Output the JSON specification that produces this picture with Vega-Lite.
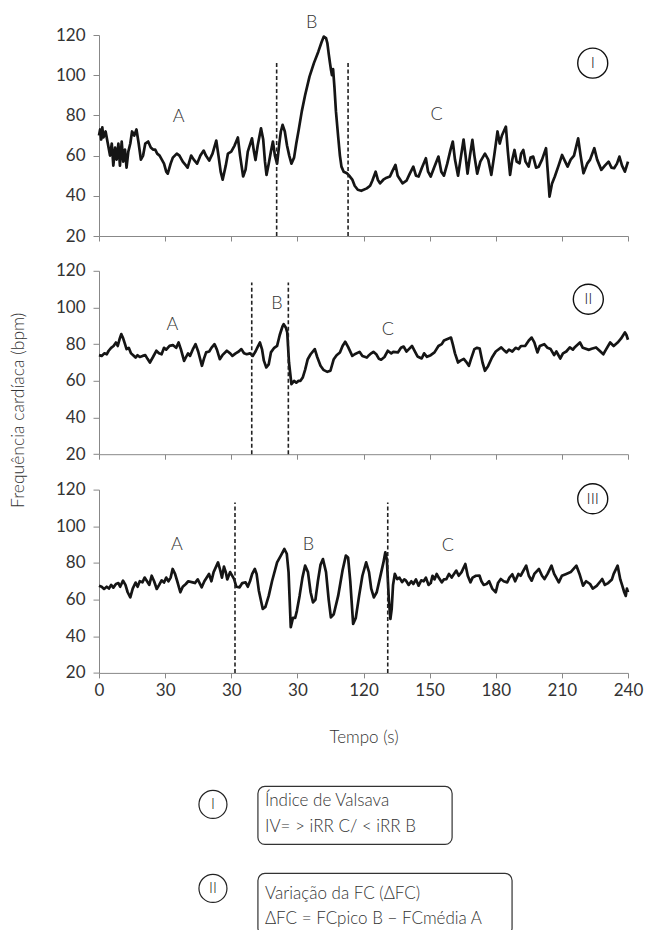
{
"$schema":"https://vega.github.io/schema/vega-lite/v6.json",
"padding":{"left":8,"top":13,"right":5,"bottom":0},
"config":{"font":"Lato","view":{"stroke":null},"axis":{"grid":false,"titleFontWeight":"normal"}},
"datasets":{
"hr1":[{"t":0,"v":70},{"t":0.5,"v":73},{"t":1,"v":68},{"t":1.5,"v":74},{"t":2,"v":69},{"t":3,"v":72},{"t":4,"v":66},{"t":5,"v":60},{"t":5.8,"v":66},{"t":6.5,"v":55},{"t":7.3,"v":64},{"t":8,"v":58},{"t":8.8,"v":66},{"t":9.5,"v":55},{"t":10.3,"v":67},{"t":11,"v":57},{"t":11.8,"v":63},{"t":12.5,"v":54},{"t":13.3,"v":62},{"t":14.2,"v":66},{"t":15,"v":72},{"t":16,"v":70},{"t":17,"v":73},{"t":18,"v":66},{"t":19,"v":58},{"t":20,"v":60},{"t":21,"v":66},{"t":22.3,"v":67},{"t":23.5,"v":64},{"t":24.5,"v":63},{"t":25.5,"v":63},{"t":26.4,"v":61},{"t":27.5,"v":60},{"t":28.5,"v":58},{"t":29.5,"v":56},{"t":30.5,"v":52},{"t":31.2,"v":51},{"t":32.5,"v":56},{"t":33.5,"v":59},{"t":35.3,"v":61},{"t":36.5,"v":60},{"t":38,"v":57},{"t":39.5,"v":55},{"t":40.2,"v":54},{"t":41.8,"v":60},{"t":43,"v":58},{"t":44.5,"v":56},{"t":46,"v":60},{"t":47.5,"v":62.5},{"t":48.5,"v":60},{"t":50,"v":57.5},{"t":51.5,"v":61},{"t":53.2,"v":67.5},{"t":54.2,"v":60},{"t":55.2,"v":52},{"t":56.1,"v":48},{"t":57.5,"v":55},{"t":58.5,"v":61},{"t":60,"v":62},{"t":61.5,"v":65},{"t":63,"v":69},{"t":64,"v":60},{"t":65.4,"v":49.6},{"t":66.5,"v":53},{"t":67.5,"v":62},{"t":69.4,"v":68.6},{"t":70.3,"v":62},{"t":71,"v":57.8},{"t":72,"v":65},{"t":73.5,"v":73.6},{"t":74.5,"v":68},{"t":75.3,"v":57},{"t":76,"v":50.4},{"t":77,"v":56},{"t":78,"v":62},{"t":78.9,"v":67},{"t":79.8,"v":60},{"t":80.8,"v":56},{"t":81.8,"v":66},{"t":82.5,"v":72},{"t":83.3,"v":75.3},{"t":84.3,"v":72},{"t":85.3,"v":65},{"t":86.3,"v":60},{"t":87.3,"v":56},{"t":88.5,"v":59},{"t":89.5,"v":66},{"t":90.6,"v":72.8},{"t":92,"v":82},{"t":93.5,"v":90},{"t":95.5,"v":99.3},{"t":97.5,"v":106},{"t":99.5,"v":111.7},{"t":101,"v":116.5},{"t":102,"v":119.2},{"t":103,"v":118.5},{"t":103.6,"v":116},{"t":104.3,"v":110},{"t":104.8,"v":106},{"t":105.2,"v":103},{"t":105.7,"v":100},{"t":106.2,"v":103},{"t":106.8,"v":94.3},{"t":107.5,"v":82},{"t":108.5,"v":69.5},{"t":109.3,"v":60},{"t":110,"v":54.5},{"t":111,"v":52},{"t":112.5,"v":51.2},{"t":113.5,"v":50},{"t":115,"v":47.9},{"t":116,"v":45},{"t":117.4,"v":43},{"t":119,"v":42.5},{"t":121.5,"v":43.7},{"t":123,"v":45},{"t":124,"v":47.5},{"t":125.5,"v":52},{"t":126.5,"v":48},{"t":127.5,"v":46.2},{"t":129,"v":48},{"t":130.5,"v":49},{"t":132,"v":49.6},{"t":133,"v":52},{"t":134.5,"v":55.4},{"t":135.5,"v":50},{"t":137.7,"v":46.2},{"t":139.5,"v":47.5},{"t":141,"v":51},{"t":142.6,"v":54.5},{"t":143.8,"v":50},{"t":145,"v":49.6},{"t":146.5,"v":54},{"t":148.3,"v":58.7},{"t":149.3,"v":52},{"t":150.5,"v":49.6},{"t":152,"v":54},{"t":154,"v":59.5},{"t":155.3,"v":52},{"t":156.5,"v":50},{"t":158,"v":56},{"t":159.5,"v":63},{"t":160.5,"v":67},{"t":161.5,"v":58},{"t":162.9,"v":50},{"t":164,"v":58},{"t":165.4,"v":68},{"t":166.3,"v":60},{"t":167.2,"v":51},{"t":168.3,"v":60},{"t":169.4,"v":67.8},{"t":170.3,"v":60},{"t":171.6,"v":51},{"t":173,"v":57},{"t":175.1,"v":61},{"t":176.6,"v":58},{"t":178,"v":50.4},{"t":179.3,"v":60},{"t":180.8,"v":72},{"t":181.8,"v":66},{"t":182.8,"v":70},{"t":183.6,"v":72},{"t":184.6,"v":74.4},{"t":185.5,"v":62},{"t":186.5,"v":50.4},{"t":187.5,"v":58},{"t":188.5,"v":62.8},{"t":189.5,"v":57},{"t":190.8,"v":56.2},{"t":191.5,"v":61},{"t":192.5,"v":62.8},{"t":193.5,"v":57},{"t":194.9,"v":54.5},{"t":195.8,"v":59},{"t":197,"v":59.5},{"t":198.3,"v":54},{"t":199.5,"v":54.5},{"t":201,"v":58},{"t":202.8,"v":63.7},{"t":203.6,"v":52},{"t":204.4,"v":39.6},{"t":205.5,"v":46},{"t":206.8,"v":49.6},{"t":208.5,"v":55},{"t":210.1,"v":60.3},{"t":211.5,"v":57},{"t":212.6,"v":54.5},{"t":214,"v":58},{"t":215.5,"v":60},{"t":217.4,"v":68.6},{"t":218.5,"v":60},{"t":219.8,"v":51.2},{"t":221.5,"v":56},{"t":222.8,"v":58},{"t":224.7,"v":63.7},{"t":226,"v":58},{"t":227.9,"v":52.9},{"t":229.5,"v":55},{"t":231.2,"v":57},{"t":232.5,"v":54},{"t":233.7,"v":53.7},{"t":235,"v":56},{"t":236.1,"v":59.5},{"t":237.3,"v":55},{"t":238.6,"v":52},{"t":240,"v":57}],
"hr2":[{"t":0,"v":74},{"t":1.2,"v":73.6},{"t":2.5,"v":75},{"t":3.5,"v":74.5},{"t":4.4,"v":76.4},{"t":5.5,"v":78},{"t":6.6,"v":79},{"t":7.7,"v":80.9},{"t":8.5,"v":79},{"t":9.4,"v":83},{"t":10.1,"v":85.5},{"t":11,"v":83},{"t":11.8,"v":80},{"t":12.5,"v":77.3},{"t":13.5,"v":78},{"t":14.5,"v":75},{"t":15.5,"v":74},{"t":16.6,"v":72.7},{"t":17.5,"v":74},{"t":18.5,"v":73},{"t":19.8,"v":73.6},{"t":21,"v":74},{"t":22,"v":72},{"t":23.1,"v":70},{"t":24.5,"v":73},{"t":26,"v":76.4},{"t":27.2,"v":75},{"t":28.4,"v":74.5},{"t":29.5,"v":78},{"t":30.5,"v":77},{"t":32,"v":79.1},{"t":33.5,"v":79.5},{"t":35,"v":78},{"t":36.1,"v":80.9},{"t":37.2,"v":77},{"t":38.6,"v":70.9},{"t":39.5,"v":73},{"t":40.4,"v":75},{"t":41.3,"v":73.6},{"t":42.5,"v":77},{"t":43.8,"v":80},{"t":45,"v":76},{"t":46.7,"v":68.2},{"t":47.6,"v":72},{"t":48.6,"v":75.5},{"t":50,"v":76},{"t":51,"v":78},{"t":52.4,"v":80},{"t":53.5,"v":77},{"t":54.8,"v":71.8},{"t":56,"v":74},{"t":58,"v":76.4},{"t":59.5,"v":75},{"t":60.5,"v":73.6},{"t":62,"v":75},{"t":63.4,"v":76},{"t":64.6,"v":77.3},{"t":65.8,"v":75},{"t":67,"v":74.5},{"t":68.5,"v":75},{"t":69.8,"v":73.6},{"t":71,"v":76},{"t":72,"v":78.5},{"t":73,"v":80.9},{"t":74,"v":77},{"t":74.8,"v":71},{"t":75.9,"v":67.3},{"t":77,"v":69},{"t":78,"v":75.5},{"t":79.5,"v":78},{"t":80.8,"v":79.1},{"t":82,"v":85},{"t":83.2,"v":89.5},{"t":83.8,"v":90.9},{"t":84.8,"v":89},{"t":85.4,"v":86.4},{"t":86.2,"v":70},{"t":87.3,"v":58.2},{"t":88.5,"v":60},{"t":89.5,"v":59},{"t":90.5,"v":60},{"t":91.4,"v":60},{"t":92.5,"v":62},{"t":93.5,"v":66},{"t":94.7,"v":71.8},{"t":96,"v":74.5},{"t":97.9,"v":77.3},{"t":99,"v":73},{"t":100.5,"v":68.2},{"t":101.8,"v":66},{"t":103.6,"v":64.9},{"t":105,"v":65.5},{"t":106.5,"v":71.8},{"t":107.8,"v":74},{"t":109.3,"v":75.5},{"t":110.5,"v":79},{"t":111.7,"v":81.3},{"t":113,"v":78.5},{"t":114.9,"v":73.6},{"t":116,"v":74.5},{"t":118.2,"v":75.8},{"t":119.5,"v":73.5},{"t":121.5,"v":72.7},{"t":122.5,"v":74},{"t":123.5,"v":75},{"t":124.5,"v":75.8},{"t":125.8,"v":74.5},{"t":127,"v":72},{"t":128,"v":71.5},{"t":129.5,"v":73},{"t":131,"v":76.4},{"t":132.6,"v":75},{"t":133.5,"v":75.8},{"t":135.6,"v":75.5},{"t":137,"v":78},{"t":138.2,"v":78.7},{"t":139.5,"v":76},{"t":140.6,"v":77.3},{"t":142,"v":79},{"t":143.3,"v":76},{"t":144.5,"v":73.3},{"t":146.4,"v":72.2},{"t":147.5,"v":75},{"t":148.8,"v":73.1},{"t":150.5,"v":74},{"t":152.2,"v":75.5},{"t":154,"v":79},{"t":155.5,"v":80},{"t":156.5,"v":82},{"t":159.7,"v":83.6},{"t":160.5,"v":80},{"t":161.5,"v":75},{"t":162.9,"v":70},{"t":164,"v":71},{"t":165.5,"v":72},{"t":166.5,"v":70.5},{"t":167.8,"v":68.2},{"t":168.8,"v":72},{"t":170.3,"v":77.3},{"t":171.5,"v":78},{"t":172.7,"v":77.6},{"t":174,"v":70},{"t":175.1,"v":65.5},{"t":176.5,"v":68},{"t":178.3,"v":72.7},{"t":180,"v":76},{"t":182.5,"v":78.2},{"t":183.5,"v":77},{"t":184.9,"v":75.5},{"t":186,"v":77},{"t":187.5,"v":76},{"t":189,"v":78},{"t":190.3,"v":77.3},{"t":191.5,"v":79},{"t":193.4,"v":79.1},{"t":195,"v":82},{"t":196.3,"v":83.6},{"t":197.5,"v":81},{"t":198.9,"v":75.5},{"t":200,"v":79},{"t":202,"v":80},{"t":203.5,"v":78},{"t":204.9,"v":77.3},{"t":206.5,"v":74},{"t":207.5,"v":76},{"t":209.3,"v":72.2},{"t":210.5,"v":75},{"t":212,"v":76},{"t":213.6,"v":78.2},{"t":215,"v":77},{"t":216,"v":78.5},{"t":218.2,"v":80.9},{"t":219.5,"v":78},{"t":222.3,"v":76.9},{"t":223.5,"v":77.5},{"t":225.5,"v":78.2},{"t":227,"v":76.5},{"t":228.8,"v":74.5},{"t":230,"v":77},{"t":231.9,"v":80.9},{"t":233.5,"v":79},{"t":235.3,"v":80.9},{"t":236.8,"v":83},{"t":238.6,"v":86.4},{"t":239.3,"v":85},{"t":240,"v":82.4}],
"hr3":[{"t":0,"v":67.6},{"t":1.2,"v":67},{"t":2.3,"v":65.8},{"t":3.5,"v":67},{"t":4.5,"v":66},{"t":5.5,"v":68},{"t":6.5,"v":66.5},{"t":7.7,"v":68.5},{"t":8.8,"v":69},{"t":9.6,"v":67},{"t":10.9,"v":70.3},{"t":12,"v":68},{"t":13,"v":64},{"t":14.2,"v":61.2},{"t":15.3,"v":66},{"t":16.6,"v":69.3},{"t":17.5,"v":67},{"t":18.5,"v":70},{"t":19.7,"v":69.4},{"t":20.7,"v":72},{"t":21.8,"v":70},{"t":22.8,"v":68},{"t":23.9,"v":73},{"t":25,"v":70},{"t":26.2,"v":65.8},{"t":27.3,"v":68},{"t":28.4,"v":70.5},{"t":29.5,"v":69.3},{"t":30.5,"v":72},{"t":31.5,"v":70},{"t":32.5,"v":72},{"t":33.4,"v":76.7},{"t":34.5,"v":74},{"t":35.5,"v":70},{"t":36.9,"v":64},{"t":38,"v":67},{"t":39.4,"v":68.5},{"t":40.5,"v":70},{"t":42.5,"v":69.4},{"t":43.5,"v":69},{"t":44.8,"v":71},{"t":46.6,"v":66.7},{"t":47.8,"v":70},{"t":49.9,"v":74},{"t":51,"v":70},{"t":52,"v":75},{"t":54,"v":80.3},{"t":55,"v":76},{"t":55.8,"v":72},{"t":56.7,"v":78},{"t":57.5,"v":75},{"t":58.2,"v":71},{"t":59.5,"v":75},{"t":61.3,"v":71.2},{"t":62.3,"v":67},{"t":63.8,"v":66.7},{"t":65,"v":69},{"t":66.5,"v":69.4},{"t":67.5,"v":67},{"t":68.5,"v":70},{"t":69.5,"v":74},{"t":70.7,"v":76.7},{"t":71.5,"v":74},{"t":72.5,"v":65},{"t":74.3,"v":54.9},{"t":75.5,"v":56},{"t":77,"v":62},{"t":78.5,"v":70},{"t":80.8,"v":80.3},{"t":82.5,"v":84},{"t":84.1,"v":87.6},{"t":85.2,"v":85},{"t":86,"v":75},{"t":86.5,"v":60},{"t":87,"v":44.9},{"t":88,"v":50},{"t":89,"v":50},{"t":89.8,"v":54},{"t":91,"v":62},{"t":92.3,"v":72},{"t":93.5,"v":78.5},{"t":94.8,"v":75},{"t":96,"v":64},{"t":97.1,"v":58.5},{"t":98.2,"v":60},{"t":99.3,"v":70},{"t":100.5,"v":79},{"t":101.6,"v":82.1},{"t":103,"v":75},{"t":104.2,"v":60},{"t":105.2,"v":50.3},{"t":106.5,"v":52},{"t":108.5,"v":62},{"t":110.5,"v":76},{"t":112,"v":84},{"t":113,"v":83},{"t":114,"v":70},{"t":115.3,"v":46.7},{"t":116.5,"v":50},{"t":118,"v":62},{"t":119.5,"v":73},{"t":121.2,"v":80.3},{"t":122.5,"v":75},{"t":123.5,"v":66},{"t":124.7,"v":61.2},{"t":126,"v":64},{"t":127.5,"v":72},{"t":129,"v":80},{"t":129.9,"v":85.8},{"t":130.6,"v":82},{"t":131,"v":72},{"t":131.5,"v":60},{"t":132.2,"v":49.4},{"t":132.8,"v":55},{"t":133.4,"v":68},{"t":134.2,"v":74},{"t":135.3,"v":71.2},{"t":136.3,"v":72},{"t":137.5,"v":69.5},{"t":138.5,"v":71},{"t":139.3,"v":70.3},{"t":140.5,"v":68},{"t":141.7,"v":70},{"t":142.6,"v":68.5},{"t":143.8,"v":71},{"t":145,"v":67.6},{"t":146.2,"v":70.5},{"t":147.3,"v":70},{"t":148.3,"v":72},{"t":149.5,"v":68},{"t":150.5,"v":69},{"t":151.3,"v":73},{"t":152.2,"v":71},{"t":153.2,"v":74},{"t":154.1,"v":72},{"t":155.5,"v":69.4},{"t":156.5,"v":71},{"t":157.6,"v":71.2},{"t":158.8,"v":74},{"t":160,"v":72},{"t":162.1,"v":75.8},{"t":163.2,"v":73},{"t":164.5,"v":75},{"t":166.2,"v":79.4},{"t":167.3,"v":73},{"t":168.5,"v":69.4},{"t":169.5,"v":72},{"t":171,"v":73},{"t":172.6,"v":73.1},{"t":173.5,"v":70},{"t":174.5,"v":68},{"t":175.8,"v":68.5},{"t":177,"v":70},{"t":178.4,"v":66},{"t":180,"v":64},{"t":181,"v":69},{"t":182.3,"v":71.2},{"t":183.6,"v":70},{"t":185.2,"v":69.4},{"t":186.2,"v":72},{"t":187.5,"v":73.8},{"t":188.8,"v":70},{"t":190.3,"v":74},{"t":191.3,"v":73},{"t":193.8,"v":78.5},{"t":195,"v":73},{"t":196.3,"v":70.3},{"t":197.5,"v":74},{"t":199.6,"v":76.7},{"t":201,"v":73},{"t":202.1,"v":71.2},{"t":203.5,"v":74},{"t":205.3,"v":78.5},{"t":206.5,"v":74},{"t":208.6,"v":69.4},{"t":210,"v":73},{"t":212,"v":74},{"t":214,"v":75},{"t":216.6,"v":78.5},{"t":218,"v":74},{"t":219.6,"v":67.6},{"t":221,"v":70},{"t":222.8,"v":68.5},{"t":224,"v":66},{"t":225.8,"v":67.5},{"t":227.5,"v":70},{"t":228.3,"v":71.2},{"t":229.5,"v":68},{"t":231,"v":69},{"t":232.7,"v":71},{"t":233.5,"v":74},{"t":235.3,"v":78.5},{"t":236.5,"v":71},{"t":237.4,"v":67.6},{"t":238.3,"v":64},{"t":239,"v":62},{"t":239.5,"v":66},{"t":240,"v":64}],
"dash":[{"p":"I","t":80.6,"v":20,"v2":107},{"p":"I","t":113,"v":20,"v2":107},{"p":"II","t":69.3,"v":20,"v2":113.6},{"p":"II","t":85.9,"v":20,"v2":113.6},{"p":"III","t":61.7,"v":20,"v2":113},{"p":"III","t":131,"v":20,"v2":113}],
"letters":[{"p":"I","t":36.1,"v":79.4,"s":"A"},{"p":"I","t":96.5,"v":126,"s":"B"},{"p":"I","t":153.2,"v":80.2,"s":"C"},{"p":"II","t":33.3,"v":90.3,"s":"A"},{"p":"II","t":80.7,"v":101.8,"s":"B"},{"p":"II","t":131,"v":87.8,"s":"C"},{"p":"III","t":35.3,"v":89.8,"s":"A"},{"p":"III","t":95,"v":89.8,"s":"B"},{"p":"III","t":158.3,"v":89.5,"s":"C"}],
"badges":[{"p":"I","t":224,"v":106,"s":"I"},{"p":"II","t":222,"v":104.5,"s":"II"},{"p":"III","t":224,"v":115,"s":"III"}],
"boxes":[{"x":72.1,"x2":160.2,"y":7.8,"y2":13.6},{"x":72.1,"x2":187.4,"y":16.5,"y2":22.7}],
"legtext":[{"x":75.3,"y":9.3,"s":"Índice de Valsava"},{"x":75.3,"y":11.9,"s":"IV= > iRR C/ < iRR B"},{"x":75.3,"y":18.6,"s":"Variação da FC (ΔFC)"},{"x":75.3,"y":21.1,"s":"ΔFC = FCpico B − FCmédia A"}],
"legbadge":[{"x":51.7,"y":9.6,"s":"I"},{"x":51.7,"y":18.0,"s":"II"}]
},
"bounds":"flush",
"spacing":34.8,
"vconcat":[
{"width":529,"height":201,
"encoding":{"x":{"field":"t","type":"quantitative","scale":{"domain":[0,240],"nice":false},"axis":{"title":null,"labels":false,"tickSize":5,"tickColor":"#888","domainColor":"#888","values":[0,30,60,90,120,150,180,210,240]}},
"y":{"field":"v","type":"quantitative","scale":{"domain":[20,120],"nice":false,"zero":false},"axis":{"title":null,"values":[20,40,60,80,100,120],"tickSize":6,"tickColor":"#888","domainColor":"#888","labelFontSize":17,"labelColor":"#333","labelPadding":8}}},
"layer":[
{"data":{"name":"hr1"},"mark":{"type":"line","color":"#151515","strokeWidth":2.7,"strokeJoin":"round"}},
{"data":{"name":"dash"},"transform":[{"filter":"datum.p=='I'"}],"mark":{"type":"rule","color":"#222","strokeWidth":1.6,"strokeDash":[4,2.5]},"encoding":{"y2":{"field":"v2"}}},
{"data":{"name":"letters"},"transform":[{"filter":"datum.p=='I'"}],"mark":{"type":"text","fontSize":18,"color":"#333","fontWeight":300},"encoding":{"text":{"field":"s"}}},
{"data":{"name":"badges"},"transform":[{"filter":"datum.p=='I'"}],"mark":{"type":"point","shape":"circle","size":900,"filled":false,"stroke":"#111","strokeWidth":1.4,"opacity":1}},
{"data":{"name":"badges"},"transform":[{"filter":"datum.p=='I'"}],"mark":{"type":"text","fontSize":16,"color":"#222","fontWeight":300},"encoding":{"text":{"field":"s"}}}
]},
{"width":529,"height":183.4,
"encoding":{"x":{"field":"t","type":"quantitative","scale":{"domain":[0,240],"nice":false},"axis":{"title":null,"labels":false,"tickSize":5,"tickColor":"#888","domainColor":"#888","values":[0,30,60,90,120,150,180,210,240]}},
"y":{"field":"v","type":"quantitative","scale":{"domain":[20,120],"nice":false,"zero":false},"axis":{"title":"Frequência cardíaca (bpm)","titleX":-72,"titleY":139,"titleFontSize":17.5,"titleFontWeight":300,"titleColor":"#333","values":[20,40,60,80,100,120],"tickSize":6,"tickColor":"#888","domainColor":"#888","labelFontSize":17,"labelColor":"#333","labelPadding":8}}},
"layer":[
{"data":{"name":"hr2"},"mark":{"type":"line","color":"#151515","strokeWidth":2.7,"strokeJoin":"round"}},
{"data":{"name":"dash"},"transform":[{"filter":"datum.p=='II'"}],"mark":{"type":"rule","color":"#222","strokeWidth":1.6,"strokeDash":[4,2.5]},"encoding":{"y2":{"field":"v2"}}},
{"data":{"name":"letters"},"transform":[{"filter":"datum.p=='II'"}],"mark":{"type":"text","fontSize":18,"color":"#333","fontWeight":300},"encoding":{"text":{"field":"s"}}},
{"data":{"name":"badges"},"transform":[{"filter":"datum.p=='II'"}],"mark":{"type":"point","shape":"circle","size":900,"filled":false,"stroke":"#111","strokeWidth":1.4,"opacity":1}},
{"data":{"name":"badges"},"transform":[{"filter":"datum.p=='II'"}],"mark":{"type":"text","fontSize":16,"color":"#222","fontWeight":300},"encoding":{"text":{"field":"s"}}}
]},
{"width":529,"height":183.3,
"encoding":{"x":{"field":"t","type":"quantitative","scale":{"domain":[0,240],"nice":false},"axis":{"title":"Tempo (s)","titleFont":"Lato","titleFontSize":17,"titleFontWeight":300,"titleColor":"#333","titlePadding":31,"labelFontSize":17,"labelColor":"#333","labelPadding":5,"labelFlush":false,"labelExpr":"datum.value==60||datum.value==90?'30':datum.label","tickSize":5,"tickColor":"#888","domainColor":"#888","values":[0,30,60,90,120,150,180,210,240]}},
"y":{"field":"v","type":"quantitative","scale":{"domain":[20,120],"nice":false,"zero":false},"axis":{"title":null,"values":[20,40,60,80,100,120],"tickSize":6,"tickColor":"#888","domainColor":"#888","labelFontSize":17,"labelColor":"#333","labelPadding":8}}},
"layer":[
{"data":{"name":"hr3"},"mark":{"type":"line","color":"#151515","strokeWidth":2.7,"strokeJoin":"round"}},
{"data":{"name":"dash"},"transform":[{"filter":"datum.p=='III'"}],"mark":{"type":"rule","color":"#222","strokeWidth":1.6,"strokeDash":[4,2.5]},"encoding":{"y2":{"field":"v2"}}},
{"data":{"name":"letters"},"transform":[{"filter":"datum.p=='III'"}],"mark":{"type":"text","fontSize":18,"color":"#333","fontWeight":300},"encoding":{"text":{"field":"s"}}},
{"data":{"name":"badges"},"transform":[{"filter":"datum.p=='III'"}],"mark":{"type":"point","shape":"circle","size":900,"filled":false,"stroke":"#111","strokeWidth":1.4,"opacity":1}},
{"data":{"name":"badges"},"transform":[{"filter":"datum.p=='III'"}],"mark":{"type":"text","fontSize":16,"color":"#222","fontWeight":300},"encoding":{"text":{"field":"s"}}}
]},
{"width":529,"height":223,
"encoding":{"x":{"field":"x","type":"quantitative","scale":{"domain":[0,240],"nice":false},"axis":null},
"y":{"field":"y","type":"quantitative","scale":{"domain":[0,22.3],"nice":false,"zero":false,"reverse":true},"axis":null}},
"layer":[
{"data":{"name":"boxes"},"mark":{"type":"rect","fill":"white","stroke":"#333","strokeWidth":1.2,"cornerRadius":7},"encoding":{"x2":{"field":"x2"},"y2":{"field":"y2"}}},
{"data":{"name":"legtext"},"mark":{"type":"text","align":"left","baseline":"middle","fontSize":17,"color":"#333","fontWeight":300},"encoding":{"text":{"field":"s"}}},
{"data":{"name":"legbadge"},"mark":{"type":"point","shape":"circle","size":784,"filled":false,"stroke":"#222","strokeWidth":1.2,"opacity":1}},
{"data":{"name":"legbadge"},"mark":{"type":"text","fontSize":15,"color":"#222","fontWeight":300},"encoding":{"text":{"field":"s"}}}
]}
]
}
